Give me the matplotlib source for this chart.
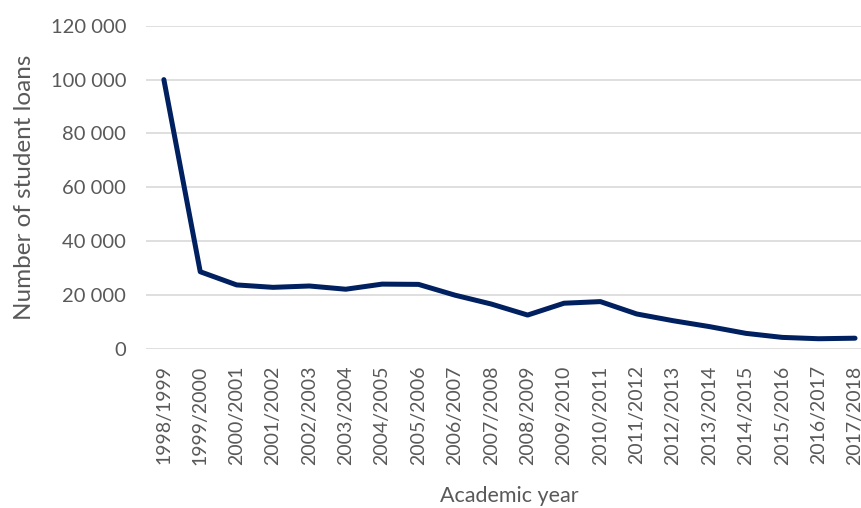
import matplotlib
matplotlib.use("Agg")
import matplotlib.pyplot as plt
from matplotlib.ticker import FuncFormatter

years = ["1998/1999", "1999/2000", "2000/2001", "2001/2002", "2002/2003",
         "2003/2004", "2004/2005", "2005/2006", "2006/2007", "2007/2008",
         "2008/2009", "2009/2010", "2010/2011", "2011/2012", "2012/2013",
         "2013/2014", "2014/2015", "2015/2016", "2016/2017", "2017/2018"]
loans = [100000, 28600, 23700, 22800, 23300, 22100, 24000, 23900, 19900, 16600,
         12500, 16900, 17500, 12900, 10400, 8200, 5700, 4200, 3700, 3900]

plt.rcParams['font.family'] = ['Lato', 'DejaVu Sans']

fig = plt.figure(figsize=(8.62, 5.08), dpi=100)
ax = fig.add_axes([0.169, 0.3136, 0.844, 0.6356])

x = list(range(len(years)))
ax.plot(x, loans, color='#002060', linewidth=3.6, solid_capstyle='round',
        solid_joinstyle='round', zorder=3)

ax.set_xlim(-0.5, len(years) - 0.5)
ax.set_ylim(0, 120000)
ax.set_yticks(range(0, 120001, 20000))
ax.yaxis.set_major_formatter(FuncFormatter(lambda v, p: f"{int(v):,}".replace(",", " ")))
ax.set_xticks(x)
ax.set_xticklabels(years, rotation=90, fontsize=14, color='#595959')
ax.tick_params(axis='y', labelsize=14.5, colors='#595959', length=0, pad=14)
ax.tick_params(axis='x', length=0, pad=12)

ax.grid(axis='y', color='#d9d9d9', linewidth=1.2)
ax.set_axisbelow(True)
for s in ax.spines.values():
    s.set_visible(False)

ax.set_ylabel("Number of student loans", fontsize=17.5, color='#595959', va='center')
ax.yaxis.set_label_coords(-0.166, 0.5)
ax.set_xlabel("Academic year", fontsize=15.5, color='#595959', va='center')
ax.xaxis.set_label_coords(0.5, -0.455)

fig.savefig("out.png", dpi=100)
